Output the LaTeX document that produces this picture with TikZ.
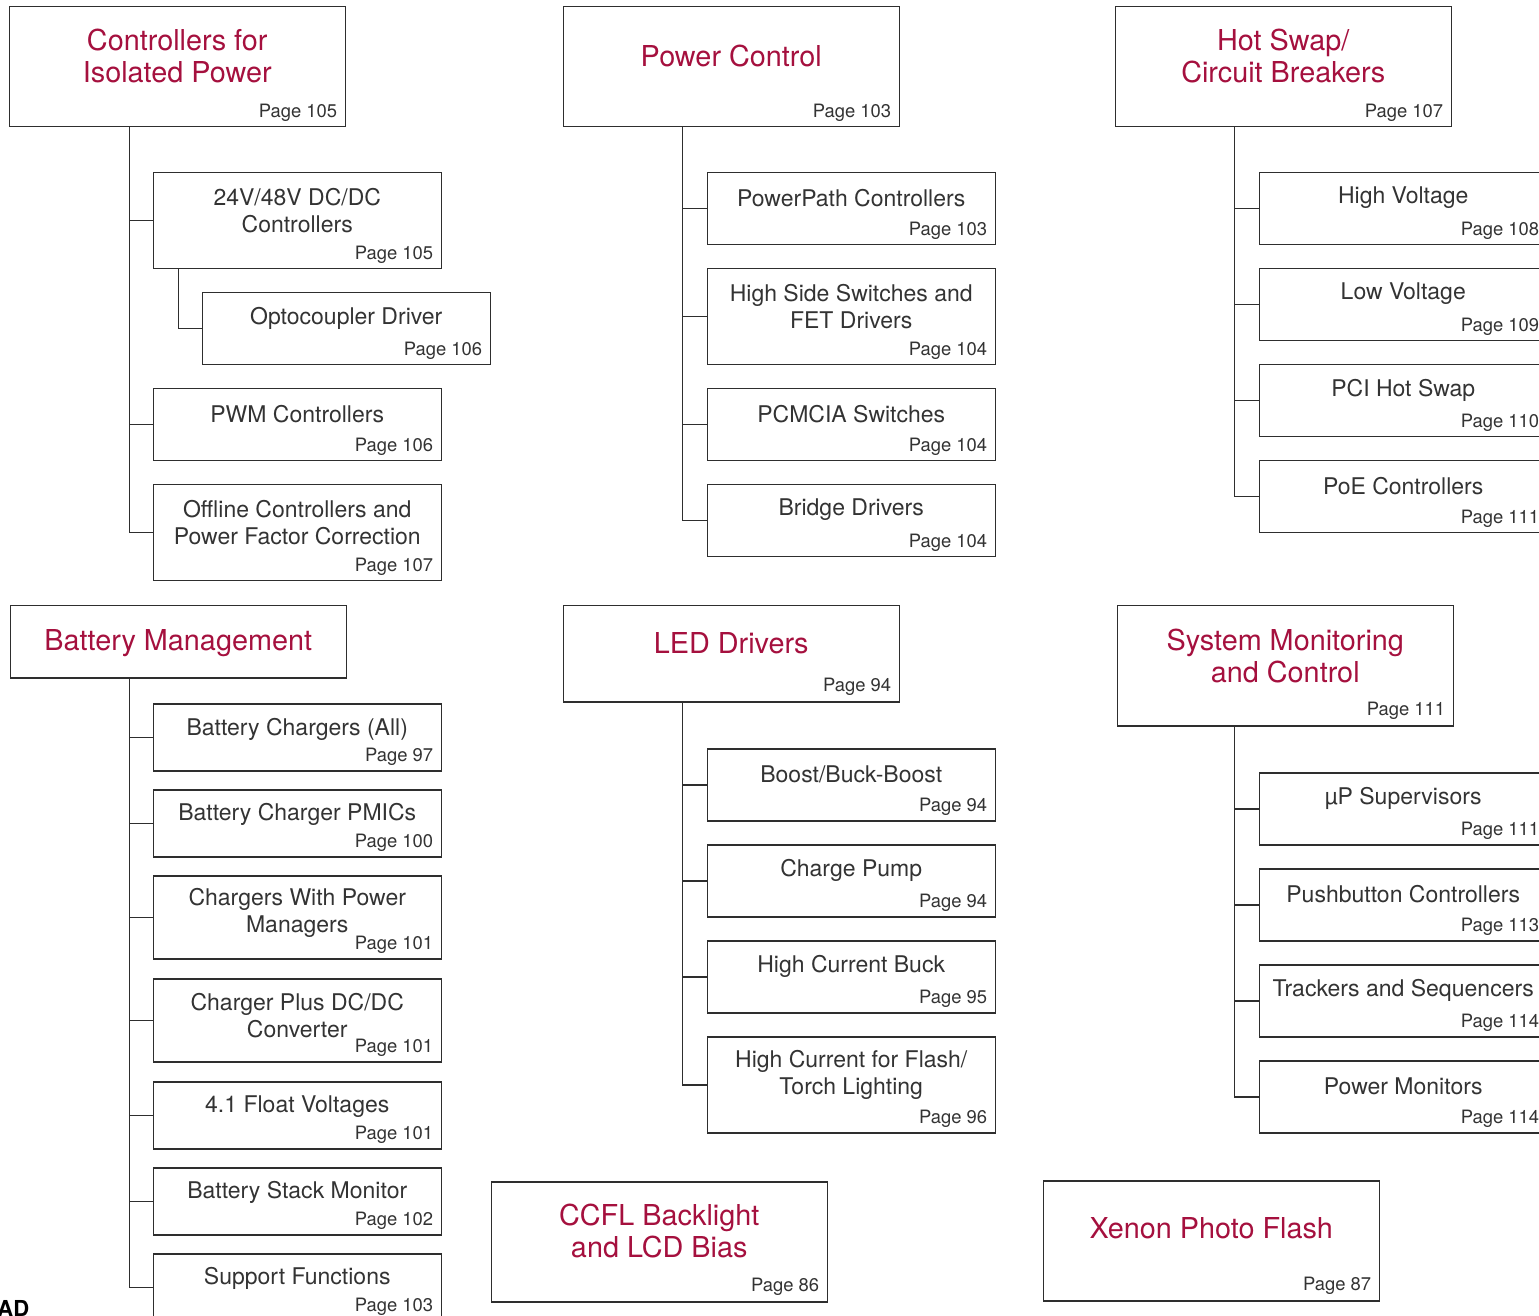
\documentclass[tikz,border=0pt]{standalone}
\usepackage{fontspec}
\setmainfont{TeX Gyre Heros}
\definecolor{ltred}{HTML}{A5103E}
\definecolor{txtgray}{HTML}{333333}
\definecolor{linegray}{HTML}{2E2E2E}

\begin{document}
\begin{tikzpicture}[x=0.5pt, y=-0.5pt,
        hbox/.style={draw=linegray, line width=0.75pt, anchor=north west, inner sep=0pt, minimum width=168pt},
        sbox/.style={draw=linegray, line width=0.75pt, anchor=north west, inner sep=0pt, minimum width=144pt, minimum height=36pt},
        ttl/.style={text=ltred, font=\fontsize{14.4}{16}\selectfont, align=center, inner sep=0pt},
        lbl/.style={text=txtgray, font=\fontsize{11.5}{13.5}\selectfont, align=center, inner sep=0pt},
        pg/.style={text=txtgray, font=\fontsize{9.2}{11}\selectfont, anchor=base east, inner sep=0pt},
        wire/.style={draw=linegray, line width=0.75pt}]
    \useasboundingbox (0,0) rectangle (1539,1316);

    % isolated power
    \node[hbox, minimum height=60pt] (iso) at (8.5,6) {};
    \node[ttl] (iso-t) at ([yshift=-25pt]iso.north) {Controllers for\\Isolated Power};
    \node[pg] (iso-p) at ([xshift=-4.25pt,yshift=5pt]iso.south east) {Page 105};
    \node[sbox, minimum height=48pt] (dcdc) at (152.5,172) {};
    \node[lbl] (dcdc-t) at ([yshift=-19.25pt]dcdc.north) {24V/48V DC/DC\\Controllers};
    \node[pg] (dcdc-p) at ([xshift=-4.25pt,yshift=5pt]dcdc.south east) {Page 105};
    \node[sbox] (opto) at (201.5,292) {};
    \node[lbl] (opto-t) at ([yshift=-13pt]opto.north) {Optocoupler Driver};
    \node[pg] (opto-p) at ([xshift=-4.25pt,yshift=5pt]opto.south east) {Page 106};
    \node[sbox] (pwm) at (152.5,388) {};
    \node[lbl] (pwm-t) at ([yshift=-13pt]pwm.north) {PWM Controllers};
    \node[pg] (pwm-p) at ([xshift=-4.25pt,yshift=5pt]pwm.south east) {Page 106};
    \node[sbox, minimum height=48pt] (offl) at (152.5,484) {};
    \node[lbl] (offl-t) at ([yshift=-19.25pt]offl.north) {Offline Controllers and\\Power Factor Correction};
    \node[pg] (offl-p) at ([xshift=-4.25pt,yshift=5pt]offl.south east) {Page 107};

    % power control
    \node[hbox, minimum height=60pt] (pwr) at (562.5,6) {};
    \node[ttl] (pwr-t) at ([yshift=-25pt]pwr.north) {Power Control};
    \node[pg] (pwr-p) at ([xshift=-4.25pt,yshift=5pt]pwr.south east) {Page 103};
    \node[sbox] (ppath) at (706.5,172) {};
    \node[lbl] (ppath-t) at ([yshift=-13pt]ppath.north) {PowerPath Controllers};
    \node[pg] (ppath-p) at ([xshift=-4.25pt,yshift=5pt]ppath.south east) {Page 103};
    \node[sbox, minimum height=48pt] (hside) at (706.5,268) {};
    \node[lbl] (hside-t) at ([yshift=-19.25pt]hside.north) {High Side Switches and\\FET Drivers};
    \node[pg] (hside-p) at ([xshift=-4.25pt,yshift=5pt]hside.south east) {Page 104};
    \node[sbox] (pcm) at (706.5,388) {};
    \node[lbl] (pcm-t) at ([yshift=-13pt]pcm.north) {PCMCIA Switches};
    \node[pg] (pcm-p) at ([xshift=-4.25pt,yshift=5pt]pcm.south east) {Page 104};
    \node[sbox] (bridge) at (706.5,484) {};
    \node[lbl] (bridge-t) at ([yshift=-13pt]bridge.north) {Bridge Drivers};
    \node[pg] (bridge-p) at ([xshift=-4.25pt,yshift=5pt]bridge.south east) {Page 104};

    % hot swap
    \node[hbox, minimum height=60pt] (hot) at (1114.5,6) {};
    \node[ttl] (hot-t) at ([yshift=-25pt]hot.north) {Hot Swap/\\Circuit Breakers};
    \node[pg] (hot-p) at ([xshift=-4.25pt,yshift=5pt]hot.south east) {Page 107};
    \node[sbox] (hv) at (1258.5,172) {};
    \node[lbl] (hv-t) at ([yshift=-13pt]hv.north) {High Voltage};
    \node[pg] (hv-p) at ([xshift=-4.25pt,yshift=5pt]hv.south east) {Page 108};
    \node[sbox] (lv) at (1258.5,268) {};
    \node[lbl] (lv-t) at ([yshift=-13pt]lv.north) {Low Voltage};
    \node[pg] (lv-p) at ([xshift=-4.25pt,yshift=5pt]lv.south east) {Page 109};
    \node[sbox] (pci) at (1258.5,364) {};
    \node[lbl] (pci-t) at ([yshift=-13pt]pci.north) {PCI Hot Swap};
    \node[pg] (pci-p) at ([xshift=-4.25pt,yshift=5pt]pci.south east) {Page 110};
    \node[sbox] (poe) at (1258.5,460) {};
    \node[lbl] (poe-t) at ([yshift=-13pt]poe.north) {PoE Controllers};
    \node[pg] (poe-p) at ([xshift=-4.25pt,yshift=5pt]poe.south east) {Page 111};

    % battery management
    \node[hbox, minimum height=36pt] (bat) at (9.5,605) {};
    \node[ttl] (bat-t) at ([yshift=-19pt]bat.north) {Battery Management};
    \node[sbox, minimum height=33.5pt] (bchg) at (152.5,703) {};
    \node[lbl] (bchg-t) at ([yshift=-13pt]bchg.north) {Battery Chargers (All)};
    \node[pg] (bchg-p) at ([xshift=-4.25pt,yshift=5pt]bchg.south east) {Page 97};
    \node[sbox, minimum height=33.5pt] (pmic) at (152.5,789) {};
    \node[lbl] (pmic-t) at ([yshift=-12.75pt]pmic.north) {Battery Charger PMICs};
    \node[pg] (pmic-p) at ([xshift=-4.25pt,yshift=5pt]pmic.south east) {Page 100};
    \node[sbox, minimum height=41.5pt] (cwpm) at (152.5,875) {};
    \node[lbl] (cwpm-t) at ([yshift=-18.75pt]cwpm.north) {Chargers With Power\\Managers};
    \node[pg] (cwpm-p) at ([xshift=-4.25pt,yshift=5pt]cwpm.south east) {Page 101};
    \node[sbox, minimum height=41.5pt] (cpdc) at (152.5,978) {};
    \node[lbl] (cpdc-t) at ([yshift=-18.75pt]cpdc.north) {Charger Plus DC/DC\\Converter};
    \node[pg] (cpdc-p) at ([xshift=-4.25pt,yshift=5pt]cpdc.south east) {Page 101};
    \node[sbox, minimum height=33.5pt] (flt) at (152.5,1081) {};
    \node[lbl] (flt-t) at ([yshift=-12.75pt]flt.north) {4.1 Float Voltages};
    \node[pg] (flt-p) at ([xshift=-4.25pt,yshift=5pt]flt.south east) {Page 101};
    \node[sbox, minimum height=33.5pt] (stack) at (152.5,1167) {};
    \node[lbl] (stack-t) at ([yshift=-12.75pt]stack.north) {Battery Stack Monitor};
    \node[pg] (stack-p) at ([xshift=-4.25pt,yshift=5pt]stack.south east) {Page 102};
    \node[sbox, minimum height=33.5pt] (supp) at (152.5,1253) {};
    \node[lbl] (supp-t) at ([yshift=-12.75pt]supp.north) {Support Functions};
    \node[pg] (supp-p) at ([xshift=-4.25pt,yshift=5pt]supp.south east) {Page 103};

    % led drivers
    \node[hbox, minimum height=48pt] (led) at (562.5,605) {};
    \node[ttl] (led-t) at ([yshift=-19pt]led.north) {LED Drivers};
    \node[pg] (led-p) at ([xshift=-4.25pt,yshift=5.5pt]led.south east) {Page 94};
    \node[sbox] (boost) at (706.5,748) {};
    \node[lbl] (boost-t) at ([yshift=-13pt]boost.north) {Boost/Buck-Boost};
    \node[pg] (boost-p) at ([xshift=-4.25pt,yshift=5pt]boost.south east) {Page 94};
    \node[sbox] (cpump) at (706.5,844) {};
    \node[lbl] (cpump-t) at ([yshift=-13pt]cpump.north) {Charge Pump};
    \node[pg] (cpump-p) at ([xshift=-4.25pt,yshift=5pt]cpump.south east) {Page 94};
    \node[sbox] (hcb) at (706.5,940) {};
    \node[lbl] (hcb-t) at ([yshift=-13pt]hcb.north) {High Current Buck};
    \node[pg] (hcb-p) at ([xshift=-4.25pt,yshift=5pt]hcb.south east) {Page 95};
    \node[sbox, minimum height=48pt] (flash) at (706.5,1036) {};
    \node[lbl] (flash-t) at ([yshift=-19.25pt]flash.north) {High Current for Flash/\\Torch Lighting};
    \node[pg] (flash-p) at ([xshift=-4.25pt,yshift=5pt]flash.south east) {Page 96};

    % system monitoring
    \node[hbox, minimum height=60pt] (sys) at (1116.5,605) {};
    \node[ttl] (sys-t) at ([yshift=-25.5pt]sys.north) {System Monitoring\\and Control};
    \node[pg] (sys-p) at ([xshift=-4.25pt,yshift=5.5pt]sys.south east) {Page 111};
    \node[sbox] (sup) at (1258.5,772) {};
    \node[lbl] (sup-t) at ([yshift=-13pt]sup.north) {µP Supervisors};
    \node[pg] (sup-p) at ([xshift=-4.25pt,yshift=5pt]sup.south east) {Page 111};
    \node[sbox] (push) at (1258.5,868) {};
    \node[lbl] (push-t) at ([yshift=-13pt]push.north) {Pushbutton Controllers};
    \node[pg] (push-p) at ([xshift=-4.25pt,yshift=5pt]push.south east) {Page 113};
    \node[sbox] (trk) at (1258.5,964) {};
    \node[lbl] (trk-t) at ([yshift=-13pt]trk.north) {Trackers and Sequencers};
    \node[pg] (trk-p) at ([xshift=-4.25pt,yshift=5pt]trk.south east) {Page 114};
    \node[sbox] (pmon) at (1258.5,1060) {};
    \node[lbl] (pmon-t) at ([yshift=-13pt]pmon.north) {Power Monitors};
    \node[pg] (pmon-p) at ([xshift=-4.25pt,yshift=5pt]pmon.south east) {Page 114};

    % single boxes
    \node[hbox, minimum height=60pt] (ccfl) at (490.5,1181) {};
    \node[ttl] (ccfl-t) at ([yshift=-25pt]ccfl.north) {CCFL Backlight\\and LCD Bias};
    \node[pg] (ccfl-p) at ([xshift=-4.25pt,yshift=5.5pt]ccfl.south east) {Page 86};
    \node[hbox, minimum height=60pt] (xen) at (1042.5,1180) {};
    \node[ttl] (xen-t) at ([yshift=-24pt]xen.north) {Xenon Photo Flash};
    \node[pg] (xen-p) at ([xshift=-4.25pt,yshift=5.5pt]xen.south east) {Page 87};

    \node[anchor=north west, inner sep=0pt, font=\fontsize{11}{13}\bfseries\selectfont] (ad) at (-3,1300) {AD};

    % trunks
    \coordinate (iso-b) at ([xshift=-11.5pt]dcdc.west |- iso.south);
    \coordinate (pwr-b) at ([xshift=-12pt]ppath.west |- pwr.south);
    \coordinate (hot-b) at ([xshift=-12pt]hv.west |- hot.south);
    \coordinate (bat-b) at ([xshift=-11.5pt]bchg.west |- bat.south);
    \coordinate (led-b) at ([xshift=-12pt]boost.west |- led.south);
    \coordinate (sys-b) at ([xshift=-12pt]sup.west |- sys.south);
    \coordinate (dcdc-b) at ([xshift=13pt]dcdc.south west);
    \foreach \n in {dcdc,pwm,offl} \draw[wire] (iso-b) |- (\n.west);
    \draw[wire] (dcdc-b) |- (opto.west);
    \foreach \n in {ppath,hside,pcm,bridge} \draw[wire] (pwr-b) |- (\n.west);
    \foreach \n in {hv,lv,pci,poe} \draw[wire] (hot-b) |- (\n.west);
    \foreach \n in {bchg,pmic,cwpm,cpdc,flt,stack,supp} \draw[wire] (bat-b) |- (\n.west);
    \foreach \n in {boost,cpump,hcb,flash} \draw[wire] (led-b) |- (\n.west);
    \foreach \n in {sup,push,trk,pmon} \draw[wire] (sys-b) |- (\n.west);
\end{tikzpicture}
\end{document}
